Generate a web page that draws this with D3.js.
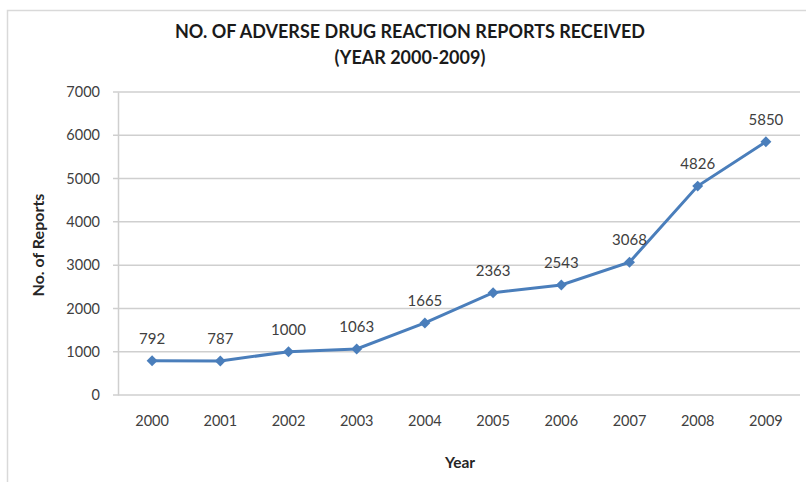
<!DOCTYPE html>
<html><head><meta charset="utf-8">
<script src="https://cdnjs.cloudflare.com/ajax/libs/d3/7.8.5/d3.min.js"></script>
<style>body{margin:0;background:#fff;} text{font-family:Lato, "Open Sans", sans-serif;}</style>
</head><body>
<svg id="chart" width="806" height="482"></svg>
<script>
const years = ["2000","2001","2002","2003","2004","2005","2006","2007","2008","2009"];
const reports = [792, 787, 1000, 1063, 1665, 2363, 2543, 3068, 4826, 5850];
const yTicks = [0, 1000, 2000, 3000, 4000, 5000, 6000, 7000];
const titleLines = ["NO. OF ADVERSE DRUG REACTION REPORTS RECEIVED", "(YEAR 2000-2009)"];

const svg = d3.select("#chart");
const mLeft = 118, mRight = 800, mTop = 92, mBottom = 395;

// frame
svg.append("path").attr("d", "M7.5,482 V10.5 H806").attr("fill","none").attr("stroke","#d9d9d9").attr("stroke-width",1.5);

const x = d3.scaleBand().domain(years).range([mLeft, mRight]);
const y = d3.scaleLinear().domain([0, 7000]).range([mBottom, mTop]);

// gridlines
svg.append("g").selectAll("line").data(yTicks).join("line")
  .attr("x1", mLeft - 5).attr("x2", mRight)
  .attr("y1", d => y(d)).attr("y2", d => y(d))
  .attr("stroke", "#cfcfcf").attr("stroke-width", 1.5);

// y axis
const yAxis = svg.append("g").attr("transform", `translate(${mLeft},0)`)
  .call(d3.axisLeft(y).tickValues(yTicks).tickFormat(d3.format("d")).tickSize(0).tickPadding(18));
yAxis.select(".domain").attr("stroke", "#cfcfcf").attr("stroke-width", 1.5);
yAxis.selectAll("text").attr("font-size", 14.5).attr("fill", "#404040");

// x axis
const xAxis = svg.append("g").attr("transform", `translate(0,${mBottom})`)
  .call(d3.axisBottom(x).tickSize(0).tickPadding(21));
xAxis.select(".domain").remove();
xAxis.selectAll("text").attr("font-size", 14.5).attr("fill", "#404040");

// line
const cx = (d, i) => x(years[i]) + x.bandwidth() / 2;
const line = d3.line().x((d, i) => cx(d, i)).y(d => y(d));
svg.append("path").datum(reports).attr("d", line)
  .attr("fill", "none").attr("stroke", "#4a7ebb").attr("stroke-width", 3);

svg.append("g").selectAll("path").data(reports).join("path")
  .attr("d", d3.symbol(d3.symbolSquare, 60))
  .attr("transform", (d, i) => `translate(${cx(d, i)},${y(d)}) rotate(45)`)
  .attr("fill", "#4a7ebb");

// data labels
svg.append("g").selectAll("text").data(reports).join("text")
  .attr("x", (d, i) => cx(d, i)).attr("y", d => y(d) - 17)
  .attr("text-anchor", "middle").attr("font-size", 15).attr("fill", "#404040")
  .text(d => d);

// title
svg.append("g").selectAll("text").data(titleLines).join("text")
  .attr("x", 410).attr("y", (d, i) => 38 + i * 26)
  .attr("text-anchor", "middle").attr("font-size", 18).attr("font-weight", "bold")
  .attr("fill", "#1a1a1a").text(d => d);

// axis titles
svg.append("text").attr("transform", "translate(44,245) rotate(-90)")
  .attr("text-anchor", "middle").attr("font-size", 16).attr("font-weight", "bold")
  .attr("fill", "#262626").text("No. of Reports");
svg.append("text").attr("x", 460).attr("y", 468)
  .attr("text-anchor", "middle").attr("font-size", 15.5).attr("font-weight", "bold")
  .attr("fill", "#262626").text("Year");
</script>
</body></html>
